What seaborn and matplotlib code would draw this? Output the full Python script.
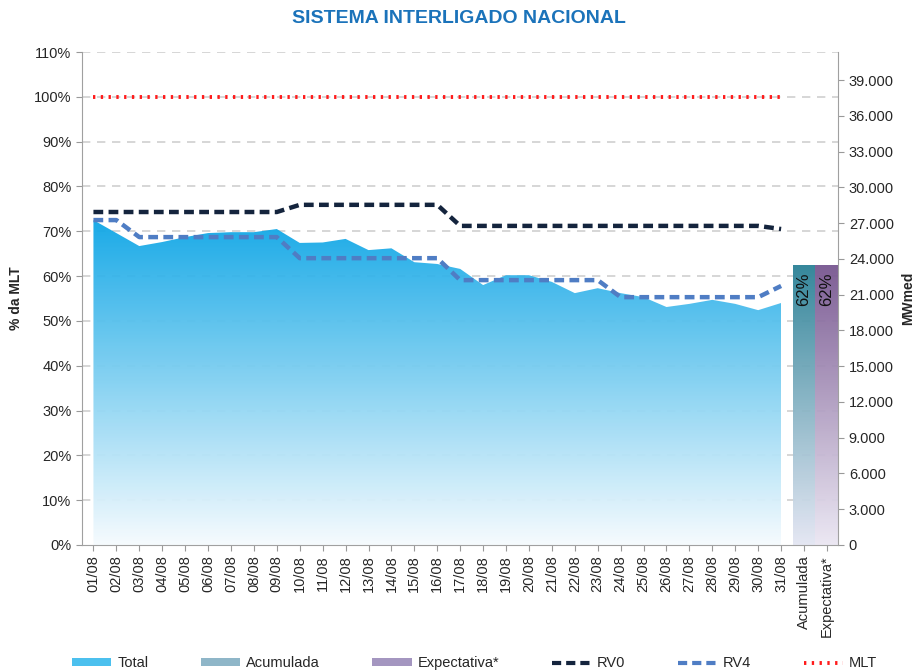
import numpy as np
import matplotlib
matplotlib.use("Agg")
import matplotlib.pyplot as plt
import seaborn as sns
from matplotlib.patches import Polygon, Patch
from matplotlib.lines import Line2D
from matplotlib.colors import LinearSegmentedColormap
from matplotlib.ticker import FuncFormatter

sns.set_style("white")
plt.rcParams['font.family'] = ['Liberation Sans', 'DejaVu Sans']

days = ["%02d/08" % d for d in range(1, 32)]
categories = days + ["Acumulada", "Expectativa*"]

# % da MLT
total = [72.5, 69.6, 66.7, 67.6, 68.7, 69.6, 69.8, 69.8, 70.5, 67.4, 67.5,
         68.3, 65.8, 66.2, 63.1, 62.7, 61.6, 58.0, 60.2, 60.2, 58.7, 56.2,
         57.3, 56.2, 55.3, 53.1, 53.8, 54.7, 53.8, 52.4, 54.0]
rv0 = [74.3] * 9 + [75.9] * 7 + [71.2] * 14 + [70.5]
rv4 = [72.5] * 2 + [68.7] * 7 + [64.0] * 7 + [59.1] * 7 + [55.3] * 7 + [57.8]
mlt = [100] * 31
acumulada = 62.5
expectativa = 62.5
mlt_mwmed = 37590

fig = plt.figure(figsize=(9.18, 6.72), dpi=100)
ax = fig.add_axes([0.0893, 0.189, 0.824, 0.7336])
x_days = np.arange(31)


def gradient_fill(ax, verts, top, bottom, x0, x1, ymax, z):
    poly = Polygon(verts, closed=True, facecolor='none', edgecolor='none')
    ax.add_patch(poly)
    cmap = LinearSegmentedColormap.from_list('g', [bottom, top])
    grad = np.linspace(0, 1, 256).reshape(-1, 1)
    im = ax.imshow(grad, cmap=cmap, aspect='auto', origin='lower',
                   extent=[x0, x1, 0, ymax], zorder=z, alpha=0.95)
    im.set_clip_path(poly)


# gridlines
for g in range(10, 111, 10):
    ax.axhline(g, color='#cfcfcf', lw=1.2, ls=(0, (5, 4)), zorder=1)

# Total area with gradient
verts = [(0, 0)] + list(zip(x_days, total)) + [(30, 0)]
gradient_fill(ax, verts, '#0ea6e6', '#f6fbfe', 0, 30, max(total), 2)

# bars
bar_x = [31, 32]
bar_vals = [acumulada, expectativa]
bar_cols = [('#2a8196', '#e4e6f3'), ('#775690', '#ebe7f3')]
for bx, bv, (top, bot) in zip(bar_x, bar_vals, bar_cols):
    v = [(bx - 0.5, 0), (bx - 0.5, bv), (bx + 0.5, bv), (bx + 0.5, 0)]
    gradient_fill(ax, v, top, bot, bx - 0.5, bx + 0.5, bv, 2)
    ax.text(bx, bv - 1.8, "62%", rotation=90, ha='center', va='top',
            fontsize=12, color='#111111', zorder=5)

sns.lineplot(x=x_days, y=rv0, ax=ax, color='#14243d', lw=3.2, zorder=4,
             linestyle=(0, (2.2, 1.2)))
sns.lineplot(x=x_days, y=rv4, ax=ax, color='#4f7dc4', lw=3.2, zorder=4,
             linestyle=(0, (2.2, 1.2)))
sns.lineplot(x=x_days, y=mlt, ax=ax, color='#ff1a1a', lw=2.8, zorder=4,
             linestyle=(0, (0.6, 1.4)))

ax.set_xlim(-0.5, 32.5)
ax.set_ylim(0, 110)
ax.set_yticks(range(0, 111, 10))
ax.yaxis.set_major_formatter(FuncFormatter(lambda v, p: "%d%%" % v))
ax.set_xticks(range(33))
ax.set_xticklabels(categories, rotation=90, fontsize=10.5)
ax.tick_params(axis='y', labelsize=10.5, length=4, color='#999999', left=True)
ax.tick_params(axis='x', length=4, color='#999999', bottom=True)
ax.set_ylabel("% da MLT", fontsize=10, fontweight='bold', labelpad=8)
ax.set_xlabel("")
for s in ['top', 'right']:
    ax.spines[s].set_visible(False)
for s in ['left', 'bottom']:
    ax.spines[s].set_color('#a0a0a0')

ax2 = ax.twinx()
ax2.set_ylim(0, 1.1 * mlt_mwmed)
ax2.set_yticks(range(0, 39001, 3000))
ax2.yaxis.set_major_formatter(
    FuncFormatter(lambda v, p: "{:,.0f}".format(v).replace(",", ".")))
ax2.tick_params(axis='y', labelsize=10.5, length=4, color='#999999', right=True)
ax2.set_ylabel("MWmed", fontsize=10, fontweight='bold', labelpad=5)
for s in ['top', 'left', 'bottom']:
    ax2.spines[s].set_visible(False)
ax2.spines['right'].set_color('#a0a0a0')

fig.text(0.5, 0.972, "SISTEMA INTERLIGADO NACIONAL", ha='center', va='center',
         fontsize=14, fontweight='bold', color='#1b73ba')

handles = [
    Patch(facecolor='#4cc0ee', edgecolor='none'),
    Patch(facecolor='#8fb6c8', edgecolor='none'),
    Patch(facecolor='#a496c0', edgecolor='none'),
    Line2D([], [], color='#14243d', lw=3, ls=(0, (2.2, 1.2))),
    Line2D([], [], color='#4f7dc4', lw=3, ls=(0, (2.2, 1.2))),
    Line2D([], [], color='#ff1a1a', lw=2.8, ls=(0, (0.6, 1.4))),
]
labels = ["Total", "Acumulada", "Expectativa*", "RV0", "RV4", "MLT"]
fig.legend(handles, labels, loc='lower center', ncol=6, frameon=False,
           bbox_to_anchor=(0.517, -0.017), fontsize=10.5, columnspacing=3.6,
           handlelength=2.7, handleheight=0.5, handletextpad=0.4)

fig.savefig("out.png", dpi=100)
